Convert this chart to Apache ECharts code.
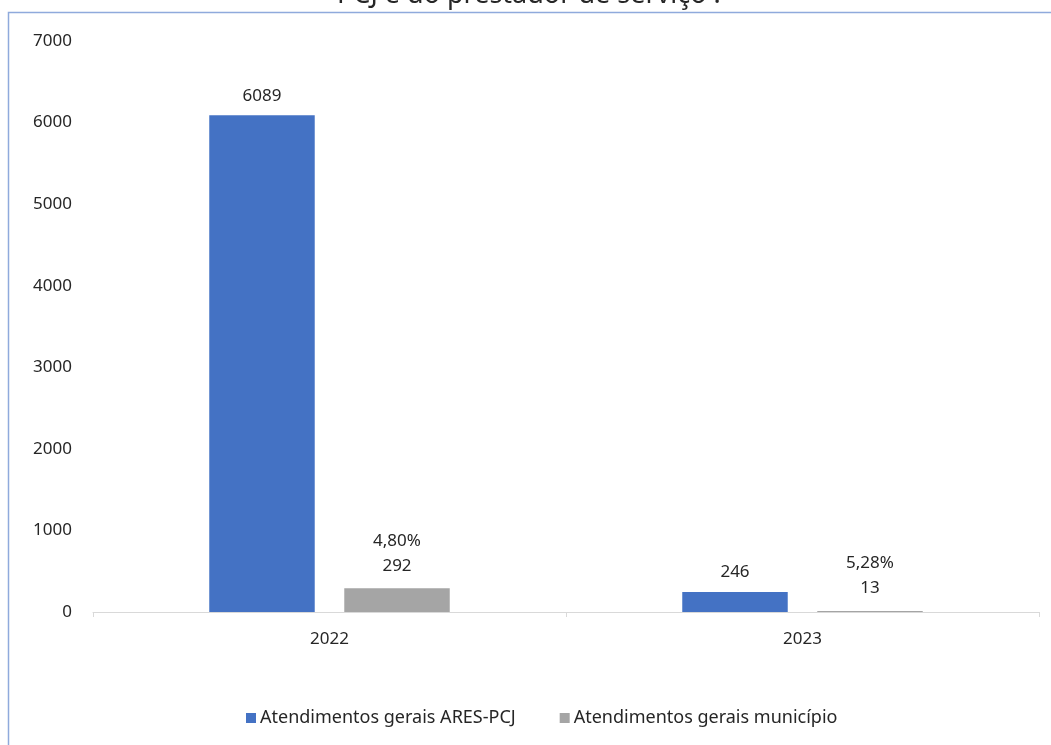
<!DOCTYPE html>
<html>
<head>
<meta charset="utf-8">
<script src="https://cdn.jsdelivr.net/npm/echarts@6/dist/echarts.min.js"></script>
<style>
  html, body { margin: 0; padding: 0; background: #ffffff; }
  #chart { width: 1051px; height: 745px; }
</style>
</head>
<body>
<div id="chart"></div>
<script>
// Atendimentos gerais por ano
const years = ['2022', '2023'];
const aresPcj = [6089, 246];
const municipio = [292, 13];
const municipioPct = ['4,80%', '5,28%'];
const yTicks = [0, 1000, 2000, 3000, 4000, 5000, 6000, 7000];

const FONT = '"Noto Sans", "Open Sans", sans-serif';
const TEXT = '#262626';

const chart = echarts.init(document.getElementById('chart'), null, { renderer: 'canvas' });

chart.setOption({
  animation: false,
  backgroundColor: '#ffffff',
  textStyle: { fontFamily: FONT },
  graphic: [
    {
      type: 'rect',
      shape: { x: 8.5, y: 12.5, width: 1100, height: 800 },
      style: { fill: null, stroke: '#8faadc', lineWidth: 1.5 },
      silent: true,
      z: 10
    },
    {
      type: 'text',
      x: 337,
      y: -5,
      style: {
        text: 'PCJ e do prestador de serviço .',
        font: '27px ' + FONT,
        fill: TEXT,
        verticalAlign: 'middle'
      },
      silent: true
    }
  ],
  grid: { left: 93, right: 12, top: 41, bottom: 133, containLabel: false },
  legend: {
    bottom: 13,
    left: 241,
    itemWidth: 10,
    itemHeight: 10,
    itemGap: 44,
    icon: 'rect',
    textStyle: { fontFamily: FONT, fontSize: 18, color: TEXT, padding: [0, 0, 0, -1] },
    data: ['Atendimentos gerais ARES-PCJ', 'Atendimentos gerais município']
  },
  xAxis: {
    type: 'category',
    data: years,
    axisLine: { show: true, lineStyle: { color: '#d9d9d9', width: 1 } },
    axisTick: { show: true, length: 5, lineStyle: { color: '#d9d9d9' } },
    axisLabel: { fontFamily: FONT, fontSize: 17, color: TEXT, margin: 19 }
  },
  yAxis: {
    type: 'value',
    min: yTicks[0],
    max: yTicks[yTicks.length - 1],
    interval: yTicks[1] - yTicks[0],
    axisLine: { show: false },
    axisTick: { show: false },
    splitLine: { show: false },
    axisLabel: {
      fontFamily: FONT,
      fontSize: 17,
      color: TEXT,
      margin: 21,
      formatter: v => String(v)
    }
  },
  series: [
    {
      name: 'Atendimentos gerais ARES-PCJ',
      type: 'bar',
      data: aresPcj,
      barWidth: '22.3%',
      barGap: '28%',
      itemStyle: { color: '#4472c4' },
      label: {
        show: true,
        position: 'top',
        distance: 11,
        fontFamily: FONT,
        fontSize: 17,
        color: TEXT
      }
    },
    {
      name: 'Atendimentos gerais município',
      type: 'bar',
      data: municipio,
      barWidth: '22.3%',
      itemStyle: { color: '#a5a5a5' },
      label: {
        show: true,
        position: 'top',
        distance: 10,
        fontFamily: FONT,
        fontSize: 17,
        lineHeight: 25,
        color: TEXT,
        formatter: p => municipioPct[p.dataIndex] + '\n' + p.value
      }
    }
  ]
});
</script>
</body>
</html>
